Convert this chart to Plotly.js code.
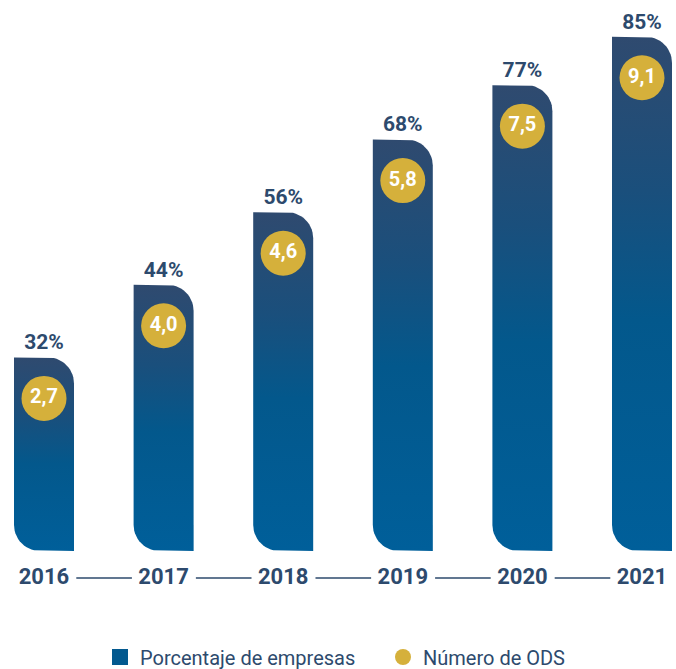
<!DOCTYPE html>
<html>
<head>
<meta charset="utf-8">
<script src="https://cdn.plot.ly/plotly-3.0.1.min.js"></script>
<style>html,body{margin:0;padding:0;background:#fff;}#chart{width:676px;height:669px;}</style>
</head>
<body>
<div id="chart"></div>
<script>
var years = ['2016', '2017', '2018', '2019', '2020', '2021'];
var percentEmpresas = [32, 44, 56, 68, 77, 85];
var numeroODS = [2.7, 4.0, 4.6, 5.8, 7.5, 9.1];
var seriesNames = ['Porcentaje de empresas', 'Número de ODS'];

var W = 676, H = 669;
var M = {l: 0, r: 0, t: 0, b: 118, autoexpand: false};
var plotW = W - M.l - M.r, plotH = H - M.t - M.b;
var pxPerCat = 119.6, pxPerPct = 6.05;
var xr = [-44 / pxPerCat, (years.length - 1) + 34 / pxPerCat];
var yr = [0, plotH / pxPerPct];
var xs = plotW / (xr[1] - xr[0]);
var ys = plotH / (yr[1] - yr[0]);

var navy = '#2d4a6d', gold = '#d5b03b';
var FONT = 'Roboto, "Liberation Sans", Arial, sans-serif';
var xi = years.map(function (_, i) { return i; });

var traces = [];
var halfW = 30 / xs, rx = 26 / xs, ry = 26 / ys;
percentEmpresas.forEach(function (v, i) {
  var x0 = i - halfW, x1 = i + halfW;
  var px = [x0], py = [v];
  var n = 14, k, a;
  for (k = 0; k <= n; k++) { a = Math.PI / 2 - (Math.PI / 2) * k / n; px.push(x1 - rx + rx * Math.cos(a)); py.push(v - ry + ry * Math.sin(a)); }
  px.push(x1); py.push(0);
  for (k = 0; k <= n; k++) { a = 1.5 * Math.PI - (Math.PI / 2) * k / n; px.push(x0 + rx + rx * Math.cos(a)); py.push(ry + ry * Math.sin(a)); }
  px.push(x0); py.push(v);
  traces.push({
    type: 'scatter', mode: 'lines', x: px, y: py, fill: 'toself',
    line: {width: 0, color: 'rgba(0,0,0,0)'},
    fillgradient: {type: 'vertical', start: 0, stop: v,
      colorscale: [[0, '#005f9a'], [0.45, '#03588c'], [0.7, '#1a4f7c'], [1, '#2f4a6f']]},
    showlegend: false, hoverinfo: 'skip'
  });
});

traces.push({
  type: 'scatter', mode: 'text', x: xi, y: percentEmpresas.map(function (v) { return v + 3 / ys; }),
  text: percentEmpresas.map(function (v) { return v + '%'; }),
  textposition: 'top center',
  textfont: {family: FONT, size: 21, color: navy, weight: 'bold'},
  cliponaxis: false, showlegend: false, hoverinfo: 'skip'
});

traces.push({
  type: 'scatter', mode: 'markers+text', x: xi,
  y: percentEmpresas.map(function (v) { return v - 41 / ys; }),
  text: numeroODS.map(function (v) { return v.toFixed(1).replace('.', ','); }),
  textposition: 'middle center',
  textfont: {family: FONT, size: 20, color: '#ffffff', weight: 'bold'},
  marker: {size: 45, color: gold, line: {width: 0}},
  cliponaxis: false, showlegend: false, hoverinfo: 'skip'
});

traces.push({type: 'scatter', mode: 'markers', x: [null], y: [null], name: seriesNames[0],
  marker: {symbol: 'square', size: 16, color: '#03598f'}});
traces.push({type: 'scatter', mode: 'markers', x: [null], y: [null], name: seriesNames[1],
  marker: {symbol: 'circle', size: 16, color: gold}});

var shapes = [];
for (var i = 0; i < years.length - 1; i++) {
  shapes.push({type: 'line', xref: 'x', yref: 'paper', x0: i + 0.27, x1: i + 0.735,
    y0: -27 / plotH, y1: -27 / plotH, line: {color: navy, width: 1.5}});
}

var layout = {
  width: W, height: H, margin: M,
  paper_bgcolor: '#ffffff', plot_bgcolor: '#ffffff',
  xaxis: {range: xr, tickvals: xi, ticktext: years, showgrid: false, zeroline: false,
    showline: false, ticks: '', fixedrange: true, ticklabelstandoff: 10,
    tickfont: {family: FONT, size: 22, color: navy, weight: 'bold'}},
  yaxis: {range: yr, visible: false, fixedrange: true},
  showlegend: true,
  legend: {orientation: 'h', x: 100 / W, xanchor: 'left', y: -106 / plotH, yanchor: 'middle',
    entrywidth: 238, entrywidthmode: 'pixels',
    font: {family: FONT, size: 20, color: navy}, itemclick: false},
  shapes: shapes
};

Plotly.newPlot('chart', traces, layout, {displayModeBar: false, staticPlot: true});
</script>
</body>
</html>
